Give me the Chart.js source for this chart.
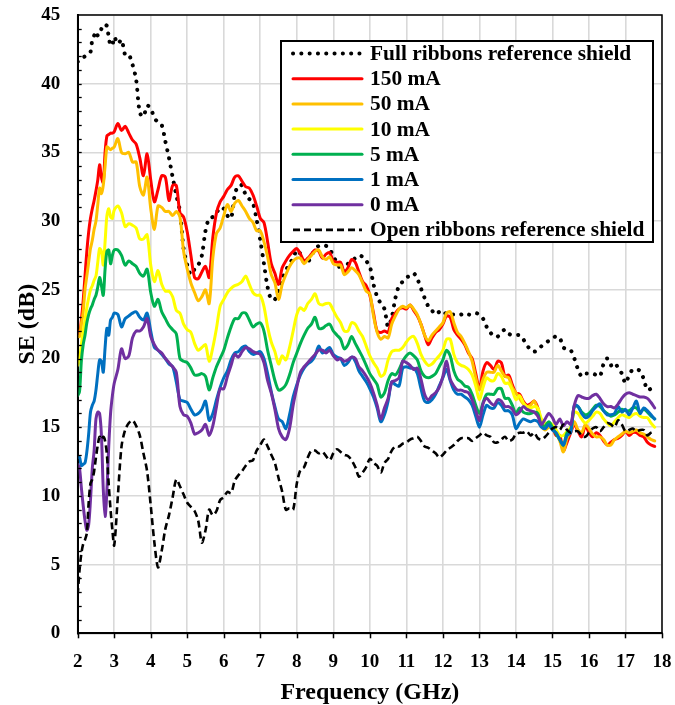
<!DOCTYPE html>
<html><head><meta charset="utf-8">
<script src="https://cdn.jsdelivr.net/npm/chart.js@4/dist/chart.umd.min.js"></script>
<style>html,body{margin:0;padding:0;background:#fff;}canvas{display:block;}</style>
</head><body>
<canvas id="c" width="675" height="705"></canvas>
<script>
const freqGHz = [2.0,2.05,2.1,2.15,2.2,2.25,2.3,2.35,2.4,2.45,2.5,2.55,2.6,2.65,2.7,2.75,2.8,2.85,2.9,2.95,3.0,
3.1,3.2,3.3,3.4,3.5,3.6,3.7,3.8,3.9,
4.0,4.1,4.2,4.3,4.4,4.5,4.6,4.7,4.8,4.9,
5.0,5.1,5.2,5.3,5.4,5.5,5.6,5.7,5.8,5.9,
6.0,6.1,6.2,6.3,6.4,6.5,6.6,6.7,6.8,6.9,
7.0,7.1,7.2,7.3,7.4,7.5,7.6,7.7,7.8,7.9,
8.0,8.1,8.2,8.3,8.4,8.5,8.6,8.7,8.8,8.9,
9.0,9.1,9.2,9.3,9.4,9.5,9.6,9.7,9.8,9.9,
10.0,10.1,10.2,10.3,10.4,10.5,10.6,10.7,10.8,10.9,
11.0,11.1,11.2,11.3,11.4,11.5,11.6,11.7,11.8,11.9,
12.0,12.1,12.2,12.3,12.4,12.5,12.6,12.7,12.8,12.9,
13.0,13.1,13.2,13.3,13.4,13.5,13.6,13.7,13.8,13.9,
14.0,14.1,14.2,14.3,14.4,14.5,14.6,14.7,14.8,14.9,
15.0,15.1,15.2,15.3,15.4,15.5,15.6,15.7,15.8,15.9,
16.0,16.1,16.2,16.3,16.4,16.5,16.6,16.7,16.8,16.9,
17.0,17.1,17.2,17.3,17.4,17.5,17.6,17.7,17.8];

const fullRibbons = [41.6,41.7,41.8,41.9,42.0,42.1,42.2,42.3,43.2,43.5,43.8,43.5,43.6,44.0,44.3,44.3,44.2,43.4,42.8,42.8,43.4,
42.9,43.2,42.1,42.1,41.4,40.3,37.9,37.6,38.4,
38.2,37.5,37.2,37.0,35.8,34.6,33.2,31.9,30.7,28.0,
26.8,26.1,26.5,26.8,27.5,29.3,30.2,30.3,30.6,31.0,
30.9,30.4,30.2,31.9,32.6,32.6,31.9,31.6,31.3,30.1,
28.6,26.9,25.2,24.3,24.3,25.0,25.8,26.4,26.9,27.3,
27.9,27.6,27.0,27.0,27.5,27.9,28.2,28.2,28.2,28.0,
27.4,27.0,26.5,26.3,26.9,27.1,27.3,27.5,27.4,27.1,
26.7,25.4,24.5,24.0,23.6,22.3,23.0,24.4,25.3,25.6,
25.9,26.0,26.2,25.8,25.1,24.4,23.8,23.5,23.2,23.4,
23.5,23.2,23.2,23.2,23.2,23.2,23.3,23.2,23.2,23.3,
23.2,22.9,22.3,21.9,21.6,21.6,21.9,22.1,21.8,21.7,
21.7,21.7,21.4,21.0,20.6,20.5,20.6,20.9,21.1,21.3,
21.5,21.6,21.5,20.8,20.7,20.6,20.0,19.2,18.7,18.9,
18.9,18.9,18.8,18.7,19.6,20.0,19.5,19.7,19.3,18.9,
18.2,18.8,19.2,19.2,19.1,18.5,17.7,17.8,17.8];

const mA150 = [22.0,21.8,22.8,24.2,26.0,27.8,29.2,30.2,30.9,31.5,32.2,33.0,34.1,33.2,32.8,35.0,36.2,36.3,36.4,36.4,36.5,
37.1,36.6,36.9,36.4,35.9,35.6,34.6,33.3,34.9,
33.0,31.4,32.3,33.3,33.2,31.5,32.6,32.6,30.6,30.3,
29.2,27.5,25.9,25.8,26.3,26.7,25.9,28.8,30.6,31.4,
31.8,32.3,32.6,33.2,33.3,32.9,32.5,32.4,31.9,31.1,
30.2,29.9,28.5,26.9,26.2,25.4,26.6,27.1,27.5,27.8,
28.0,27.6,27.1,27.3,27.6,27.9,27.8,27.3,27.6,27.7,
27.1,27.0,27.0,26.3,26.6,27.2,27.0,26.3,25.6,25.3,
24.6,23.3,22.0,21.9,22.0,21.9,22.9,23.3,23.6,23.7,
23.6,23.9,23.5,23.1,22.5,21.7,21.0,21.5,21.9,22.1,
22.5,23.1,23.0,22.1,21.7,21.4,21.0,20.4,20.0,18.9,
17.8,19.1,19.7,19.5,19.2,19.8,19.7,18.7,18.8,18.1,
17.5,17.4,16.9,16.6,16.7,16.9,16.4,15.3,14.9,15.3,
15.0,14.4,14.4,13.3,13.9,14.6,15.2,14.7,14.3,15.1,
14.6,14.3,14.6,14.4,14.0,13.7,13.9,14.1,14.2,14.4,
14.7,14.4,14.6,14.6,14.4,14.3,13.9,13.7,13.6];

const mA50 = [21.6,21.6,22.5,23.4,25.0,26.0,27.0,28.0,28.6,29.4,30.0,31.2,32.4,32.0,32.6,34.0,35.4,35.3,35.2,35.3,35.4,
36.0,35.0,34.9,35.0,34.3,34.3,32.5,31.9,33.2,
30.9,29.4,31.1,31.0,30.7,30.7,30.4,30.7,30.3,27.8,
26.5,25.5,24.8,24.2,24.5,25.0,24.0,27.3,29.1,29.5,
30.4,31.2,30.7,31.3,31.5,31.1,30.7,30.2,29.9,29.3,
29.3,28.5,27.4,26.1,25.5,24.3,25.4,26.1,26.7,27.1,
27.3,27.3,26.9,27.2,27.5,27.8,27.9,27.4,27.2,27.4,
26.9,26.8,26.8,26.1,26.3,26.6,26.4,26.1,25.5,24.9,
24.7,23.1,21.9,21.4,21.6,21.5,22.5,23.1,23.6,23.8,
23.7,23.9,23.6,23.2,22.5,21.7,21.3,21.7,22.0,22.3,
22.6,23.3,23.4,22.6,21.9,21.6,21.1,20.5,19.8,18.6,
17.7,18.5,19.0,19.0,19.0,19.5,19.1,18.7,18.6,17.9,
17.5,17.1,16.7,16.5,16.6,16.9,16.2,15.1,14.8,15.0,
14.9,14.6,14.0,13.2,14.2,14.7,15.4,14.8,14.6,15.2,
14.9,14.5,14.3,14.3,14.1,13.7,13.7,14.1,14.3,14.5,
14.7,14.6,14.7,14.8,14.6,14.5,14.3,14.1,14.0];

const mA10 = [19.5,19.9,21.0,22.0,22.8,23.7,24.4,25.0,25.3,25.7,26.0,27.0,28.0,27.8,26.8,28.5,30.4,30.9,30.3,30.2,30.8,
31.1,30.6,29.6,29.8,29.7,29.5,28.7,28.7,29.0,
26.8,25.6,26.4,25.4,24.9,24.9,24.5,23.5,23.3,22.5,
22.1,21.9,21.1,20.6,20.8,21.0,19.8,20.8,22.2,23.8,
24.3,24.8,25.1,25.3,25.4,25.6,26.0,25.4,24.8,24.6,
24.6,23.8,22.3,21.2,20.5,19.6,20.2,19.9,20.8,22.0,
23.2,23.7,23.5,24.0,24.3,24.7,24.0,23.9,24.0,24.0,
23.5,23.0,22.6,22.0,22.0,22.6,22.5,22.0,21.6,20.9,
20.2,19.7,19.3,18.7,18.9,19.9,20.5,20.6,20.6,20.8,
21.2,21.5,21.6,21.1,20.3,19.8,19.5,19.6,19.9,20.2,
20.6,21.4,21.4,20.3,19.7,19.5,19.4,19.2,18.8,18.0,
17.0,17.9,18.6,18.4,18.4,18.9,18.7,18.2,18.2,17.7,
17.0,17.3,16.8,16.5,16.4,16.5,16.4,15.6,15.3,15.3,
15.2,14.8,14.4,14.4,14.7,15.0,16.1,16.0,15.6,15.3,
15.5,15.8,16.1,16.0,15.6,15.3,15.1,15.4,15.7,15.9,
15.8,15.7,15.9,16.0,15.8,15.7,15.7,15.3,15.0];

const mA5 = [17.3,17.6,19.8,21.0,21.7,22.6,23.2,23.6,23.9,24.3,24.6,25.2,25.9,25.3,24.6,26.5,27.8,27.9,26.9,27.5,27.9,
27.9,27.5,26.8,27.1,26.9,26.7,26.2,26.0,26.5,
24.8,23.8,24.3,23.4,22.9,22.4,22.1,21.8,20.0,19.8,
19.7,19.3,18.8,18.8,18.9,18.7,17.7,18.6,19.4,20.0,
20.6,21.5,22.3,22.9,22.9,23.3,23.3,22.8,22.3,22.5,
22.6,22.0,20.6,19.5,18.4,17.7,17.8,18.1,18.8,19.7,
20.4,21.1,21.7,22.2,22.5,23.0,22.2,22.2,22.4,22.5,
22.0,21.7,21.4,20.7,21.0,21.6,21.1,20.6,20.1,19.5,
18.9,18.5,18.1,17.2,17.5,18.4,18.9,18.8,19.2,19.8,
20.2,20.4,20.2,19.9,19.1,18.7,18.6,18.7,18.9,19.4,
19.9,20.6,20.2,19.1,18.5,18.3,18.0,17.9,17.4,16.6,
16.0,16.8,17.4,17.4,17.4,17.8,17.8,17.1,17.1,16.6,
16.0,16.4,16.1,16.0,16.0,16.1,16.0,15.1,15.1,15.4,
15.0,14.5,14.1,13.7,14.6,14.8,16.5,16.5,16.1,15.9,
16.0,16.3,16.6,16.5,16.2,16.0,15.8,15.9,16.1,16.3,
16.2,16.2,16.4,16.4,16.1,16.3,16.1,15.8,15.6];

const mA1 = [12.8,12.8,12.2,12.3,12.4,13.2,14.5,16.1,16.6,16.9,17.7,18.9,19.9,19.8,19.0,20.8,22.2,21.7,22.8,23.0,23.3,
23.2,22.3,22.9,23.1,23.3,23.4,23.0,22.8,23.3,
22.0,20.8,20.6,20.3,20.0,19.6,19.4,18.3,17.0,16.9,
16.8,16.3,15.9,16.0,16.3,16.9,15.5,16.0,17.0,17.9,
18.6,19.1,19.9,20.4,20.5,20.8,20.9,20.5,20.3,20.4,
20.5,20.0,18.9,17.6,16.5,15.6,15.4,14.9,15.9,17.2,
18.1,18.8,19.3,19.6,19.8,20.2,20.9,20.4,20.6,20.8,
20.3,20.1,20.0,19.5,19.7,20.1,19.8,19.1,18.7,18.3,
17.8,17.2,16.4,15.4,15.9,16.9,18.3,18.1,18.0,19.3,
19.4,19.3,19.3,18.9,17.8,16.9,16.8,17.0,17.4,18.0,
18.6,19.2,18.4,17.7,17.4,17.4,17.2,17.0,16.6,15.8,
15.0,15.9,16.6,16.4,16.4,16.8,16.6,16.2,16.2,15.9,
14.9,15.3,15.6,15.5,15.4,15.5,15.4,15.0,14.9,15.2,
14.8,14.6,14.1,13.7,14.4,14.6,16.6,16.5,16.0,15.7,
15.8,16.2,16.5,16.7,16.2,15.9,15.9,16.0,16.5,16.1,
16.3,15.9,16.4,16.9,16.0,16.4,16.2,15.9,15.6];

const mA0 = [12.3,12.0,10.6,9.3,8.2,7.5,7.9,9.7,12.0,13.3,15.6,16.1,16.0,14.4,10.5,8.5,10.4,13.6,16.0,17.3,18.2,
19.2,20.7,20.0,20.2,21.5,22.0,22.0,22.3,22.9,
21.6,21.0,20.6,20.4,20.0,19.7,19.4,19.0,16.5,15.9,
15.8,15.3,14.5,14.6,14.8,15.2,14.4,15.1,16.5,17.8,
17.8,18.7,19.5,20.3,20.1,20.5,20.8,20.7,20.5,20.4,
20.3,19.7,18.4,17.5,16.3,14.9,14.3,14.1,14.9,16.6,
17.9,19.0,19.4,19.7,20.0,20.3,20.6,20.6,20.4,20.6,
20.2,19.9,20.0,19.8,19.9,20.1,20.0,19.4,19.1,18.7,
18.2,17.5,16.6,15.6,16.4,17.1,18.3,18.4,18.6,19.8,
19.7,19.5,19.2,19.3,18.5,17.4,17.0,17.3,17.5,17.9,
18.7,19.8,18.5,18.0,17.7,17.7,17.6,17.5,17.0,16.2,
15.5,16.7,17.1,16.8,16.6,17.0,16.9,16.5,16.5,16.3,
15.9,16.1,16.5,16.3,16.2,16.1,15.8,15.2,15.6,16.0,
15.7,15.2,15.6,15.1,15.4,15.2,16.6,17.3,17.2,17.1,
17.1,17.3,17.4,17.1,16.7,16.5,16.5,16.4,16.7,17.1,
17.4,17.5,17.4,17.3,17.2,17.2,17.1,16.8,16.4];

const openRibbons = [2.8,4.6,5.8,6.5,6.8,7.3,9.5,10.9,11.2,11.8,12.8,13.7,14.3,14.1,14.3,14.0,13.0,10.8,9.0,7.5,6.4,
10.0,13.6,14.8,15.3,15.5,15.1,14.4,13.1,11.8,
9.3,6.6,4.8,6.0,7.6,8.6,9.9,11.2,10.7,10.1,
9.5,9.2,8.9,8.2,6.6,7.5,9.0,8.6,8.9,9.7,
9.9,10.3,10.2,11.1,11.5,11.8,12.2,12.5,12.6,13.3,
13.7,14.1,13.6,13.0,12.4,11.3,10.3,9.0,9.1,9.0,
10.9,11.9,12.1,12.8,13.3,13.3,13.1,13.2,12.9,12.6,
13.1,13.4,13.2,13.0,12.9,12.6,12.1,11.4,11.7,12.1,
12.7,12.4,12.2,11.7,12.4,12.7,13.3,13.6,13.6,13.8,
13.9,14.1,14.2,14.3,14.0,13.6,13.5,13.3,13.1,12.8,
13.0,13.3,13.5,13.7,14.0,14.2,14.2,14.2,14.0,14.2,
14.4,14.6,14.4,14.3,13.9,13.9,14.1,14.3,14.0,14.1,
14.5,14.6,14.6,14.7,14.4,14.6,14.2,14.1,14.3,14.6,
14.9,15.0,14.8,15.2,14.8,14.6,14.7,14.7,14.4,14.3,
14.6,14.9,15.0,14.7,15.0,15.3,15.2,15.0,15.5,15.2,
14.7,14.8,14.9,14.7,14.8,14.8,14.4,14.6,14.7];

const seriesLabels = ['Full ribbons reference shield','150 mA','50 mA','10 mA','5 mA','1 mA','0 mA','Open ribbons reference shield'];
const seriesValues = [fullRibbons, mA150, mA50, mA10, mA5, mA1, mA0, openRibbons];
const seriesColors = ['#000000','#FF0000','#FFC000','#FFFF00','#00B050','#0070C0','#7030A0','#000000'];
const yTickStep = 5;

const FONT = "'Liberation Serif', 'Times New Roman', serif";

const datasets = seriesValues.map((vals, i) => {
  const ds = {
    label: seriesLabels[i],
    data: freqGHz.map((f, k) => ({x: f, y: vals[k]})),
    borderColor: seriesColors[i],
    backgroundColor: seriesColors[i],
    borderWidth: 3,
    pointRadius: 0,
    fill: false,
    tension: 0.3,
    borderCapStyle: 'round',
    borderJoinStyle: 'round',
    order: -i
  };
  if (i === 0) { ds.borderDash = [0.1, 8.2]; ds.borderWidth = 4; ds.borderCapStyle = 'round'; }
  if (i === 7) { ds.borderDash = [7, 4]; ds.borderWidth = 2.6; ds.borderCapStyle = 'butt'; }
  return ds;
});

const framePlugin = {
  id: 'frame',
  afterDatasetsDraw(chart) {
    const {ctx, chartArea: a, scales: {x, y}} = chart;
    ctx.save();
    ctx.strokeStyle = '#000';
    ctx.lineWidth = 1.5;
    ctx.strokeRect(a.left, a.top, a.right - a.left, a.bottom - a.top);
    ctx.lineWidth = 1.3;
    for (let v = 1; v < 45; v++) {
      const py = Math.round(y.getPixelForValue(v)) + 0.5;
      ctx.beginPath();
      ctx.moveTo(a.left, py);
      ctx.lineTo(a.left + 4, py);
      ctx.stroke();
    }
    ctx.lineWidth = 1.5;
    x.ticks.forEach(t => {
      const px = Math.round(x.getPixelForValue(t.value)) + 0.5;
      ctx.beginPath();
      ctx.moveTo(px, a.bottom);
      ctx.lineTo(px, a.bottom + 5);
      ctx.stroke();
    });
    ctx.restore();
  },
  afterDraw(chart) {
    const ctx = chart.ctx;
    ctx.save();
    const bx = 281, by = 41, bw = 372, bh = 201;
    ctx.fillStyle = '#fff';
    ctx.fillRect(bx, by, bw, bh);
    ctx.lineWidth = 2;
    ctx.strokeStyle = '#000';
    ctx.strokeRect(bx, by, bw, bh);
    chart.data.datasets.forEach((ds, i) => {
      const yy = 53.5 + i * 25.2;
      ctx.beginPath();
      ctx.setLineDash(ds.borderDash || []);
      ctx.lineCap = ds.borderCapStyle || 'butt';
      ctx.lineWidth = ds.borderWidth;
      ctx.strokeStyle = ds.borderColor;
      ctx.moveTo(293, yy);
      ctx.lineTo(362, yy);
      ctx.stroke();
      ctx.setLineDash([]);
      ctx.fillStyle = '#000';
      ctx.font = 'bold 21.4px ' + FONT;
      ctx.textBaseline = 'middle';
      ctx.textAlign = 'left';
      ctx.fillText(ds.label, 370, yy + 1);
    });
    ctx.restore();
  }
};

new Chart(document.getElementById('c'), {
  type: 'line',
  data: {datasets},
  plugins: [framePlugin],
  options: {
    responsive: false,
    animation: false,
    devicePixelRatio: 1,
    layout: {padding: {top: 15, right: 13, left: 0, bottom: 0}},
    plugins: {legend: {display: false}, tooltip: {enabled: false}},
    scales: {
      x: {
        type: 'linear', min: 2, max: 18,
        afterFit(s) { s.height = 71.7; },
        ticks: {stepSize: 1, autoSkip: false, maxRotation: 0, color: '#000', padding: 1,
          font: {family: FONT, size: 19, weight: 'bold'}},
        grid: {color: '#d9d9d9', lineWidth: 1.6, tickColor: 'rgba(0,0,0,0)', tickLength: 16, drawTicks: true},
        border: {color: '#000', width: 2},
        title: {display: true, text: 'Frequency (GHz)', color: '#000',
          font: {family: FONT, size: 24, weight: 'bold', lineHeight: 1}, padding: {top: 0, bottom: 0}}
      },
      y: {
        min: 0, max: 45,
        afterFit(s) { s.width = 77.7; },
        ticks: {stepSize: yTickStep, color: '#000', padding: 1,
          font: {family: FONT, size: 19, weight: 'bold'}},
        grid: {color: '#d9d9d9', lineWidth: 1.6, tickColor: 'rgba(0,0,0,0)', tickLength: 16.5, drawTicks: true},
        border: {color: '#000', width: 2},
        title: {display: true, text: 'SE (dB)', color: '#000',
          font: {family: FONT, size: 24, weight: 'bold', lineHeight: 1}, padding: {top: 16, bottom: 0}}
      }
    }
  }
});
</script>
</body></html>
